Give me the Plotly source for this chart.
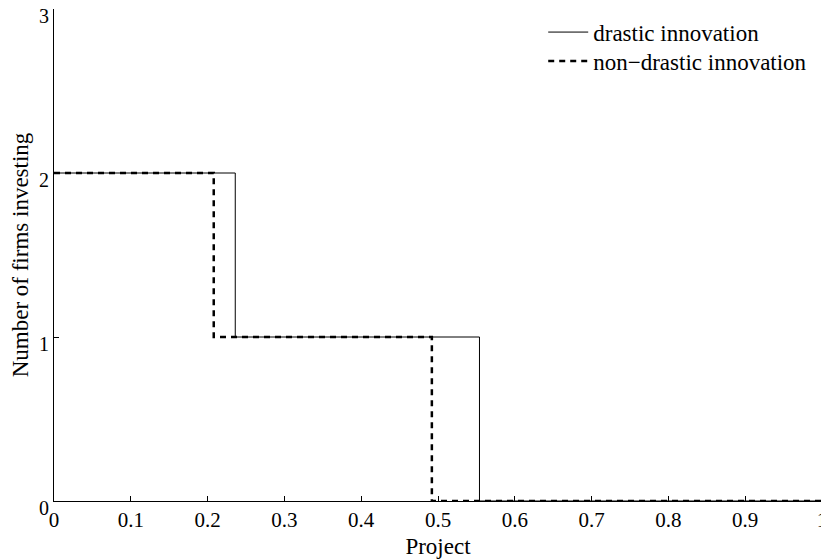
import plotly.graph_objects as go

# Data (step functions)
drastic_x = [0, 0.236, 0.554, 1.0]
drastic_y = [2, 1, 0, 0]
nondrastic_x = [0, 0.208, 0.492, 1.0]
nondrastic_y = [2, 1, 0, 0]

x_ticks = [0, 0.1, 0.2, 0.3, 0.4, 0.5, 0.6, 0.7, 0.8, 0.9, 1]
x_ticklabels = ["0", "0.1", "0.2", "0.3", "0.4", "0.5", "0.6", "0.7", "0.8", "0.9", "1"]
y_ticks = [0, 1, 2, 3]
y_ticklabels = ["0", "1", "2", "3"]

font_family = "Liberation Serif, Times New Roman, serif"

fig = go.Figure()
fig.add_trace(go.Scatter(
    x=drastic_x, y=drastic_y, mode="lines", name="drastic innovation",
    line=dict(color="black", width=1, shape="hv"), legend="legend",
))
fig.add_trace(go.Scatter(
    x=nondrastic_x, y=nondrastic_y, mode="lines", name="non\u2212drastic innovation",
    line=dict(color="black", width=2.5, shape="hv", dash="6px,5px"), legend="legend2",
))

legend_common = dict(xanchor="left", yanchor="middle", bgcolor="rgba(0,0,0,0)",
                     font=dict(size=23, family=font_family, color="black"), itemwidth=40)

# page body has an 8px default margin, so the figure is sized to fit inside the window
fig.update_layout(
    width=821, height=551,
    margin=dict(l=46, r=7, t=1, b=58, autoexpand=False),
    paper_bgcolor="white", plot_bgcolor="white",
    font=dict(family=font_family, size=21, color="black"),
    showlegend=True,
    legend=dict(x=0.637, y=0.953, **legend_common),
    legend2=dict(x=0.637, y=0.894, **legend_common),
    xaxis=dict(
        range=[0, 1], tickvals=x_ticks, ticktext=x_ticklabels,
        showgrid=False, zeroline=False, showline=True, linecolor="black", linewidth=1,
        ticks="inside", ticklen=5, tickcolor="black", automargin=False,
        ticklabeloverflow="allow",
        title=dict(text="Project", standoff=6, font=dict(size=23, family=font_family)),
        tickfont=dict(size=21, family=font_family),
    ),
    yaxis=dict(
        range=[0, 3], tickvals=y_ticks, ticktext=y_ticklabels,
        showgrid=False, zeroline=False, showline=True, linecolor="black", linewidth=1,
        ticks="inside", ticklen=5, tickcolor="black", automargin=False,
        ticklabeloverflow="allow", ticklabelshift=7,
        title=dict(text="Number of firms investing", standoff=10, font=dict(size=23, family=font_family)),
        tickfont=dict(size=20, family=font_family),
    ),
)

fig.write_html("out.html")
